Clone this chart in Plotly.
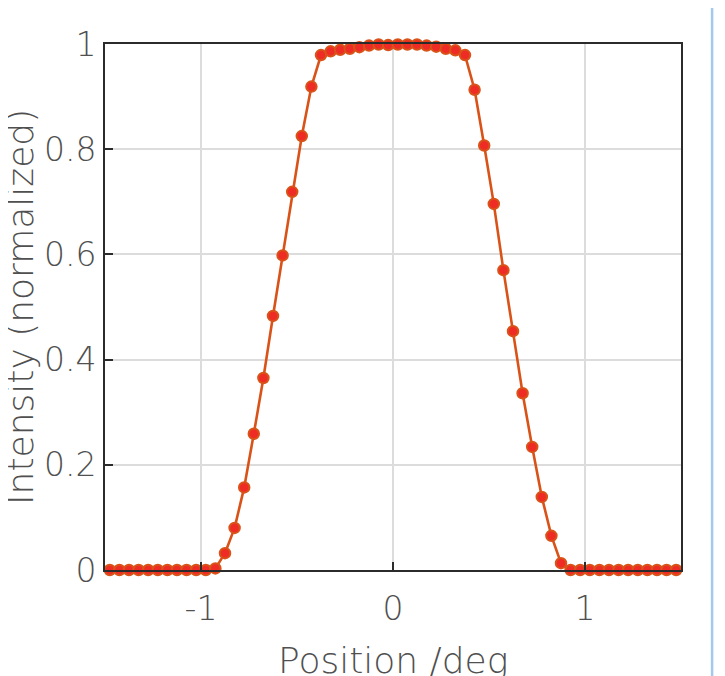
import plotly.graph_objects as go

# Sample positions (deg) and normalized intensity values
positions = [round(-1.475 + 0.05 * k, 3) for k in range(60)]
intensity = [
    0, 0, 0, 0, 0, 0, 0, 0, 0, 0,          # -1.475 .. -1.025
    0.0, 0.003, 0.032, 0.080, 0.157,       # -0.975 .. -0.775
    0.259, 0.365, 0.483, 0.598, 0.719,     # -0.725 .. -0.525
    0.825, 0.919, 0.979, 0.986, 0.989,     # -0.475 .. -0.275
    0.991, 0.994, 0.997, 0.999, 0.998,     # -0.225 .. -0.025
    0.999, 0.999, 0.999, 0.997, 0.995,     #  0.025 ..  0.225
    0.991, 0.988, 0.979, 0.913, 0.807,     #  0.275 ..  0.475
    0.696, 0.570, 0.454, 0.336, 0.234,     #  0.525 ..  0.725
    0.139, 0.065, 0.013, 0.0, 0.0,         #  0.775 ..  0.975
    0, 0, 0, 0, 0, 0, 0, 0, 0, 0,          #  1.025 ..  1.475
]

x_ticks = [-1, 0, 1]
x_tick_labels = ["-1", "0", "1"]
y_ticks = [0, 0.2, 0.4, 0.6, 0.8, 1]
y_tick_labels = ["0", "0.2", "0.4", "0.6", "0.8", "1"]
x_title = "Position /deg"
y_title = "Intensity (normalized)"

LINE = "#D95319"
FILL = "#EE2B24"
FAMILY = "'DejaVu Sans', 'Open Sans', sans-serif"
TICK_FONT = dict(family=FAMILY, size=33, color="#505050", weight=200)
TITLE_FONT = dict(family=FAMILY, size=36, color="#505050", weight=200)

fig = go.Figure()
fig.add_trace(go.Scatter(
    x=positions, y=intensity, mode="lines+markers",
    line=dict(color=LINE, width=2.6),
    marker=dict(size=10.5, color=FILL, line=dict(color=LINE, width=2)),
    cliponaxis=False,
    showlegend=False,
))

axis_common = dict(
    showline=True, linecolor="#2b2b2b", linewidth=2, mirror=True,
    showgrid=True, gridcolor="#dcdcdc", gridwidth=1.5,
    zeroline=False, ticks="inside", ticklen=8, tickwidth=1.5, tickcolor="#2b2b2b",
    tickfont=TICK_FONT, automargin=False,
)

fig.update_xaxes(range=[-1.5, 1.5], tickvals=x_ticks, ticktext=x_tick_labels,
                 ticklabelstandoff=8, **axis_common)
fig.update_yaxes(range=[0, 1], tickvals=y_ticks, ticktext=y_tick_labels,
                 ticklabelstandoff=0, **axis_common)

fig.add_annotation(text=x_title, xref="paper", yref="paper", x=0.5, y=0,
                   xanchor="center", yanchor="middle", yshift=-90,
                   showarrow=False, font=TITLE_FONT)
fig.add_annotation(text=y_title, xref="paper", yref="paper", x=0, y=0.5,
                   xanchor="center", yanchor="middle", xshift=-85, textangle=-90,
                   showarrow=False, font=TITLE_FONT)

fig.add_shape(type="line", xref="paper", yref="paper",
              x0=1.054, x1=1.054, y0=-0.3, y1=1.2,
              line=dict(color="#A3C9EC", width=2.5))

fig.update_layout(
    width=725, height=676,
    margin=dict(l=97, r=52, t=36, b=114),
    paper_bgcolor="white", plot_bgcolor="white",
)

fig.write_html("out.html")
